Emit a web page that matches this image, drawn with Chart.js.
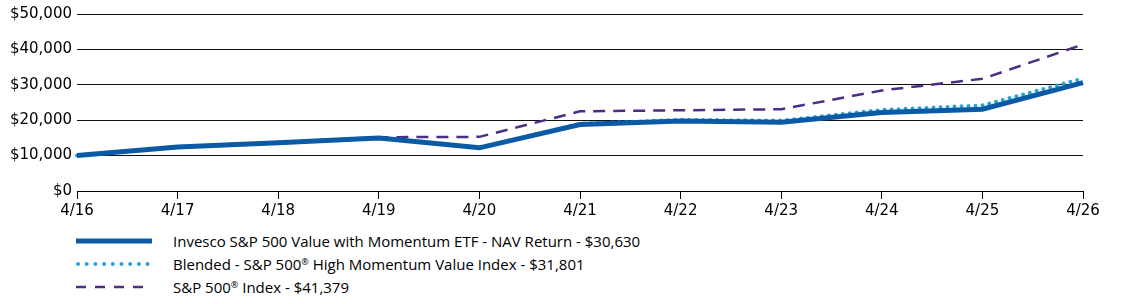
<!DOCTYPE html>
<html>
<head>
<meta charset="utf-8">
<script src="https://cdn.jsdelivr.net/npm/chart.js@4/dist/chart.umd.min.js"></script>
<style>
  html, body { margin: 0; padding: 0; background: #fff; }
  #wrap { position: relative; width: 1123px; height: 304px; }
  #chart { position: absolute; left: 0; top: 0; }
  #legend { position: absolute; left: 76px; top: 229px; font-family: "Open Sans", sans-serif; font-size: 15px; color: #000; }
  .row { height: 23px; display: flex; align-items: center; }
  .row svg { width: 76px; height: 10px; margin-right: 21px; flex: none; }
  sup { font-size: 9px; vertical-align: 5px; line-height: 0; }
</style>
</head>
<body>
<div id="wrap">
  <canvas id="chart" width="1123" height="225"></canvas>
  <div id="legend">
    <div class="row">
      <svg><line x1="0" y1="5" x2="76" y2="5" stroke="#0b5aa6" stroke-width="5"/></svg>
      <span>Invesco S&amp;P 500 Value with Momentum ETF - NAV Return - $30,630</span>
    </div>
    <div class="row">
      <svg><line x1="2" y1="5" x2="76" y2="5" stroke="#26a3dd" stroke-width="4" stroke-linecap="round" stroke-dasharray="0 8.7"/></svg>
      <span>Blended - S&amp;P 500<sup>®</sup> High Momentum Value Index - $31,801</span>
    </div>
    <div class="row">
      <svg><line x1="0" y1="5" x2="76" y2="5" stroke="#4b2d84" stroke-width="2.5" stroke-dasharray="10 9"/></svg>
      <span>S&amp;P 500<sup>®</sup> Index - $41,379</span>
    </div>
  </div>
</div>
<script>
"use strict";

// x-axis labels (April of each year)
const years = ['4/16', '4/17', '4/18', '4/19', '4/20', '4/21', '4/22', '4/23', '4/24', '4/25', '4/26'];

// growth of $10,000
const fundValues = [10000, 12400, 13600, 15000, 12200, 18800, 19800, 19400, 22200, 23100, 30630];
const blendedValues = [10000, 12400, 13600, 15000, 12300, 19000, 20100, 19900, 22900, 24200, 31801];
const sp500Values = [10000, 12400, 13700, 15200, 15300, 22500, 22800, 23100, 28400, 31700, 41379];

const yTicks = [0, 10000, 20000, 30000, 40000, 50000];

const tickFont = { family: 'DejaVu Sans', size: 15 };

const chartElement = document.getElementById('chart');

new Chart(chartElement, {
  type: 'line',
  data: {
    labels: years,
    datasets: [
      {
        label: 'Invesco S&P 500 Value with Momentum ETF - NAV Return',
        data: fundValues,
        borderColor: '#0b5aa6',
        borderWidth: 5,
        pointRadius: 0,
        tension: 0
      },
      {
        label: 'Blended - S&P 500 High Momentum Value Index',
        data: blendedValues,
        borderColor: '#26a3dd',
        borderWidth: 4,
        borderDash: [0, 7],
        borderCapStyle: 'round',
        pointRadius: 0,
        tension: 0
      },
      {
        label: 'S&P 500 Index',
        data: sp500Values,
        borderColor: '#4b2d84',
        borderWidth: 2.5,
        borderDash: [12, 8],
        pointRadius: 0,
        tension: 0
      }
    ]
  },
  options: {
    responsive: false,
    devicePixelRatio: 1,
    animation: false,
    layout: { padding: { top: 13, right: 40, left: 0, bottom: 0 } },
    plugins: {
      legend: { display: false },
      tooltip: { enabled: false }
    },
    scales: {
      x: {
        type: 'category',
        offset: false,
        border: { display: true, color: '#000', width: 1 },
        grid: { drawOnChartArea: false, drawTicks: true, tickLength: 8, color: '#000' },
        ticks: { font: tickFont, color: '#000', maxRotation: 0, autoSkip: false, padding: 3 },
        afterFit: scale => { scale.height = 34; }
      },
      y: {
        min: 0,
        max: 50000,
        border: { display: false },
        grid: { color: '#111', lineWidth: 1, drawTicks: false },
        afterBuildTicks: scale => { scale.ticks = yTicks.map(v => ({ value: v })); },
        ticks: {
          font: tickFont,
          color: '#000',
          padding: 5,
          callback: v => '$' + v.toLocaleString('en-US')
        },
        afterFit: scale => { scale.width = 77; }
      }
    }
  }
});
</script>
</body>
</html>
